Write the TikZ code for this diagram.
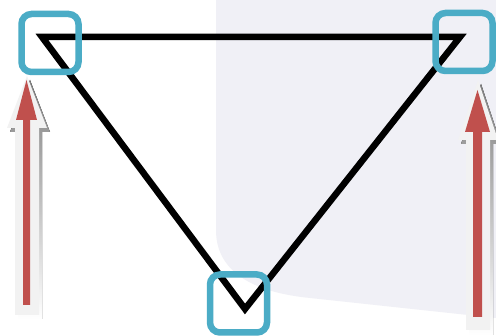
\documentclass[tikz,border=0pt]{standalone}
\usetikzlibrary{positioning}
\definecolor{teal1}{HTML}{4BACC6}
\definecolor{red1}{HTML}{C0504D}
\definecolor{rim}{HTML}{F2F2F2}
\definecolor{shade}{HTML}{B89090}
\definecolor{lav}{HTML}{F0F0F6}
\newcommand{\uparr}[7]{% color, cx, tip, headbase, bottom, halfshaft, halfhead
  \fill[#1] (#2,#3) -- (#2+#7,#4) -- (#2+#6,#4) -- (#2+#6,#5) -- (#2-#6,#5) -- (#2-#6,#4) -- (#2-#7,#4) -- cycle;}
\begin{document}
\begin{tikzpicture}[x=1pt,y=-1pt,
  vbox/.style={draw=teal1,line width=6.5pt,rounded corners=10pt,minimum width=57pt,minimum height=58pt,inner sep=0pt},
  side/.style={draw=black,line width=6.5pt,line join=miter}]
\useasboundingbox (0,0) rectangle (496,336);
\fill[white] (0,0) rectangle (496,336);
% background panel
\fill[lav] (216,0) -- (496,0) -- (496,318) -- (310,298) .. controls (250,292) and (216,270) .. (216,230) -- cycle;
% arrows
\uparr{shade}{30}{80}{132}{319}{12}{20}
\uparr{rim}{27}{76}{128}{315}{12}{20}
\uparr{red1}{26.5}{80}{120}{305}{3.5}{10.5}
\uparr{shade}{481}{84}{144}{335}{12}{20}
\uparr{rim}{478}{80}{140}{330}{12}{20}
\uparr{red1}{477.5}{90}{132}{317}{4.5}{12.5}
% vertices
\coordinate (A) at (42,37);
\coordinate (B) at (460,37);
\coordinate (C) at (245,309);
\draw[side] (A) -- (B) -- (C) -- cycle;
% boxes
\node[vbox] (bA) at (50,43) {};
\node[vbox] (bB) at (464,42) {};
\node[vbox] (bC) at (238.5,303.5) {};
\end{tikzpicture}
\end{document}
